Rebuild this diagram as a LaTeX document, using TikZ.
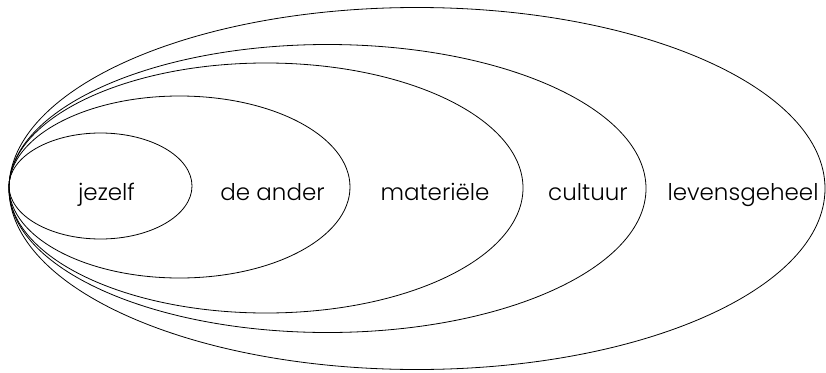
\documentclass[tikz,border=0pt]{standalone}
\usepackage{fontspec}
\setmainfont{Poppins Light}
\begin{document}
\begin{tikzpicture}[x=1pt,y=-1pt,
  ring/.style={draw=black,line width=0.8pt},
  lbl/.style={font=\fontsize{23}{26}\selectfont,inner sep=0pt,anchor=base}]
\useasboundingbox (0,0) rectangle (826,372);
\draw[ring] (100.5,186) ellipse [x radius=91.5, y radius=53];
\draw[ring] (179.5,187) ellipse [x radius=170.5, y radius=91];
\draw[ring] (266,188) ellipse [x radius=257, y radius=125];
\draw[ring] (327.5,188.5) ellipse [x radius=318.5, y radius=144];
\draw[ring] (417,188.5) ellipse [x radius=408, y radius=181];
\node[lbl] (jezelf) at (106.5,200) {jezelf};
\node[lbl] (ander) at (272.5,200) {de ander};
\node[lbl] (mat) at (435,200) {materiële};
\node[lbl] (cult) at (588,200) {cultuur};
\node[lbl] (leven) at (743,200) {levensgeheel};
\end{tikzpicture}
\end{document}
